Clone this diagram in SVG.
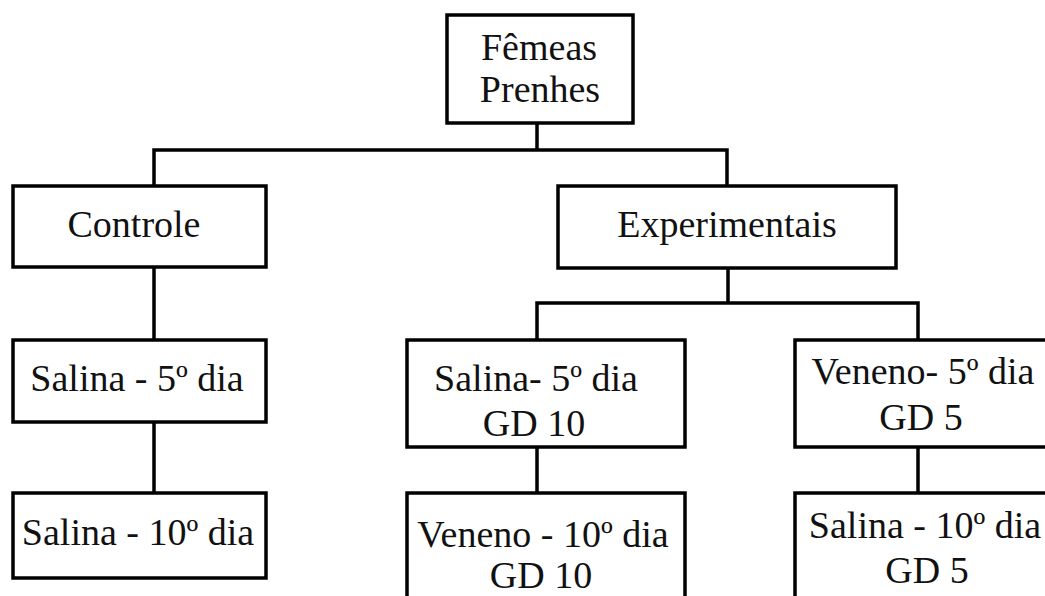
<svg xmlns="http://www.w3.org/2000/svg" width="1045" height="596" viewBox="0 0 1045 596">
<style>
.box{fill:#fff;stroke:#000;stroke-width:3.5}
.ln{fill:none;stroke:#000;stroke-width:3.5;stroke-linecap:square}
text{font-family:"Liberation Serif","Times New Roman",serif;font-size:38px;fill:#111;text-anchor:middle}
</style>
<rect width="1045" height="596" fill="#fff"/>
<g id="connectors">
<path class="ln" d="M537 123V150M154 150H727M154 150V186M727 150V186"/>
<path class="ln" d="M154 267V340M154 422V493"/>
<path class="ln" d="M728 268V303M537 303H918M537 303V340M918 303V340"/>
<path class="ln" d="M537 447V493M918 447V493"/>
</g>
<g id="femeas">
<rect class="box" x="447" y="15" width="186" height="108"/>
<text x="539" y="60">Fêmeas</text>
<text x="540" y="102">Prenhes</text>
</g>
<g id="controle">
<rect class="box" x="13" y="186" width="253" height="81"/>
<text x="134" y="237">Controle</text>
</g>
<g id="experimentais">
<rect class="box" x="558" y="186" width="338" height="82"/>
<text x="727" y="237">Experimentais</text>
</g>
<g id="salina5">
<rect class="box" x="13" y="340" width="253" height="82"/>
<text x="137" y="391">Salina - 5º dia</text>
</g>
<g id="salina10">
<rect class="box" x="13" y="493" width="253" height="85"/>
<text x="138" y="545">Salina - 10º dia</text>
</g>
<g id="salina5gd10">
<rect class="box" x="407" y="340" width="278" height="107"/>
<text x="536" y="391">Salina- 5º dia</text>
<text x="534" y="436">GD 10</text>
</g>
<g id="veneno10gd10">
<rect class="box" x="407" y="493" width="278" height="120"/>
<text x="543" y="547">Veneno  - 10º dia</text>
<text x="541" y="588">GD 10</text>
</g>
<g id="veneno5gd5">
<rect class="box" x="795" y="340" width="270" height="107"/>
<text x="923" y="384">Veneno- 5º dia</text>
<text x="921" y="430">GD 5</text>
</g>
<g id="salina10gd5">
<rect class="box" x="795" y="493" width="270" height="120"/>
<text x="925" y="538">Salina - 10º dia</text>
<text x="927" y="583">GD 5</text>
</g>
</svg>
